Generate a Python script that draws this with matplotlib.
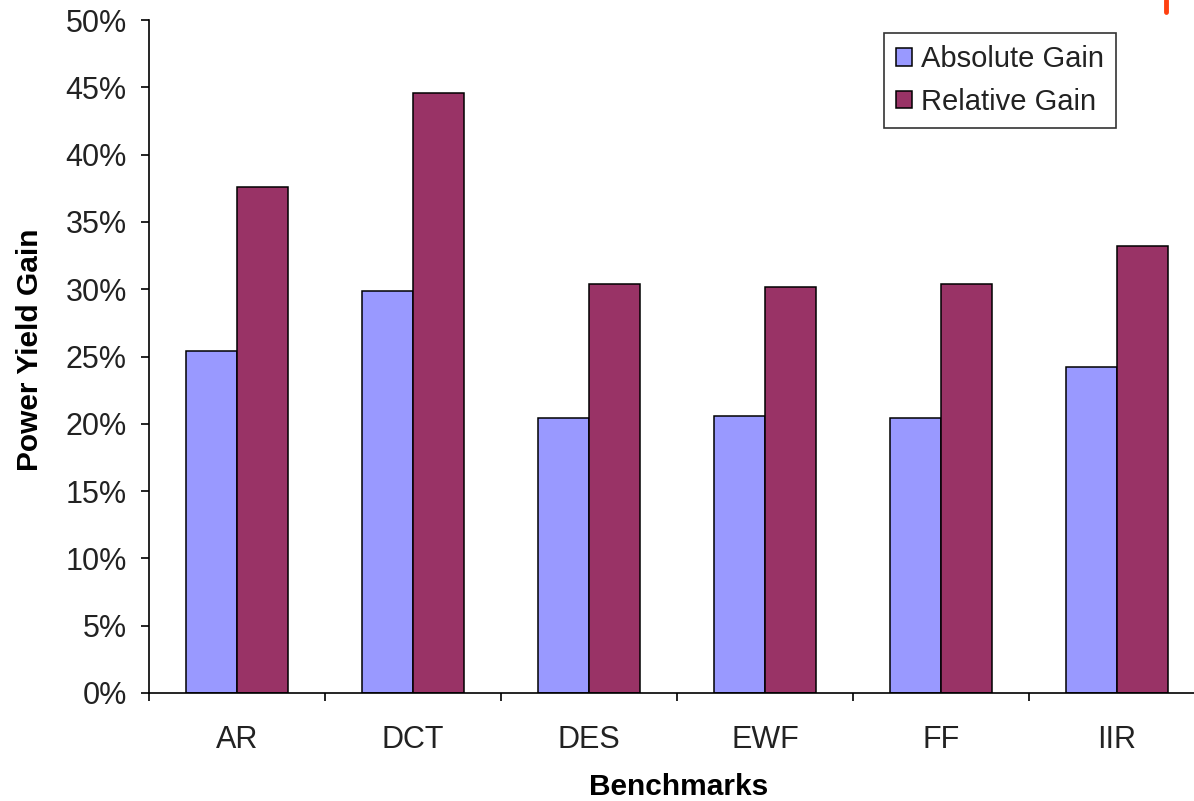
import matplotlib
matplotlib.use("Agg")
import matplotlib.pyplot as plt
import numpy as np
from matplotlib.lines import Line2D

plt.rcParams['font.family'] = ['Liberation Sans', 'DejaVu Sans']

benchmarks = ['AR', 'DCT', 'DES', 'EWF', 'FF', 'IIR']
absolute_gain = [25.4, 29.9, 20.4, 20.6, 20.4, 24.2]
relative_gain = [37.6, 44.6, 30.4, 30.2, 30.4, 33.2]

W, H = 1194, 801
fig = plt.figure(figsize=(W / 100, H / 100), dpi=100)
# axes runs a little past the right edge of the figure
ax = fig.add_axes([149 / W, 1 - 693 / H, (1205 - 149) / W, (693 - 20) / H])

x = np.arange(len(benchmarks))
bw = 0.29
ax.bar(x - bw / 2, absolute_gain, bw, color='#9999FF', edgecolor='black',
       linewidth=1.1, label='Absolute Gain', zorder=2)
ax.bar(x + bw / 2, relative_gain, bw, color='#993366', edgecolor='black',
       linewidth=1.1, label='Relative Gain', zorder=2)

ax.set_xlim(-0.5, len(benchmarks) - 0.5)
ax.set_ylim(0, 50)
ax.set_yticks(np.arange(0, 51, 5))
ax.set_yticklabels([f'{v}%' for v in range(0, 51, 5)])

# boundary ticks without labels, names at the group centres
ax.set_xticks(np.arange(-0.5, len(benchmarks), 1.0))
ax.set_xticklabels([])
ax.set_xticks(x, minor=True)
ax.set_xticklabels(benchmarks, minor=True)
ax.tick_params(axis='x', which='minor', length=0, pad=23, labelsize=22,
               labelcolor='#222222')
ax.tick_params(axis='x', which='major', length=6, width=1.2, direction='out')
ax.tick_params(axis='y', length=6, width=1.2, pad=10, labelsize=22,
               labelcolor='#222222')

for s in ['top', 'right']:
    ax.spines[s].set_visible(False)
for s in ['left', 'bottom']:
    ax.spines[s].set_linewidth(1.2)

fig.text(30 / W, 1 - 350 / H, 'Power Yield Gain', rotation=90, ha='center',
         va='center', fontsize=21.5, fontweight='bold')
fig.text(679 / W, 1 - 787 / H, 'Benchmarks', ha='center', va='center',
         fontsize=21.5, fontweight='bold')

leg = ax.legend(loc='upper right', bbox_to_anchor=(1116 / W, 1 - 33 / H),
                bbox_transform=fig.transFigure, fontsize=21, frameon=True,
                fancybox=False, shadow=False, handlelength=0.55,
                handleheight=0.55, handletextpad=0.3, labelspacing=0.5,
                borderpad=0.42, borderaxespad=0)
leg.get_frame().set_edgecolor('black')
leg.get_frame().set_linewidth(1.2)
for t in leg.get_texts():
    t.set_color('#222222')

fig.add_artist(Line2D([1166 / W, 1166 / W], [1.0, 1 - 12 / H],
                      transform=fig.transFigure, color='#FF4010',
                      linewidth=3.5, solid_capstyle='round'))

fig.savefig('out.png', dpi=100)
